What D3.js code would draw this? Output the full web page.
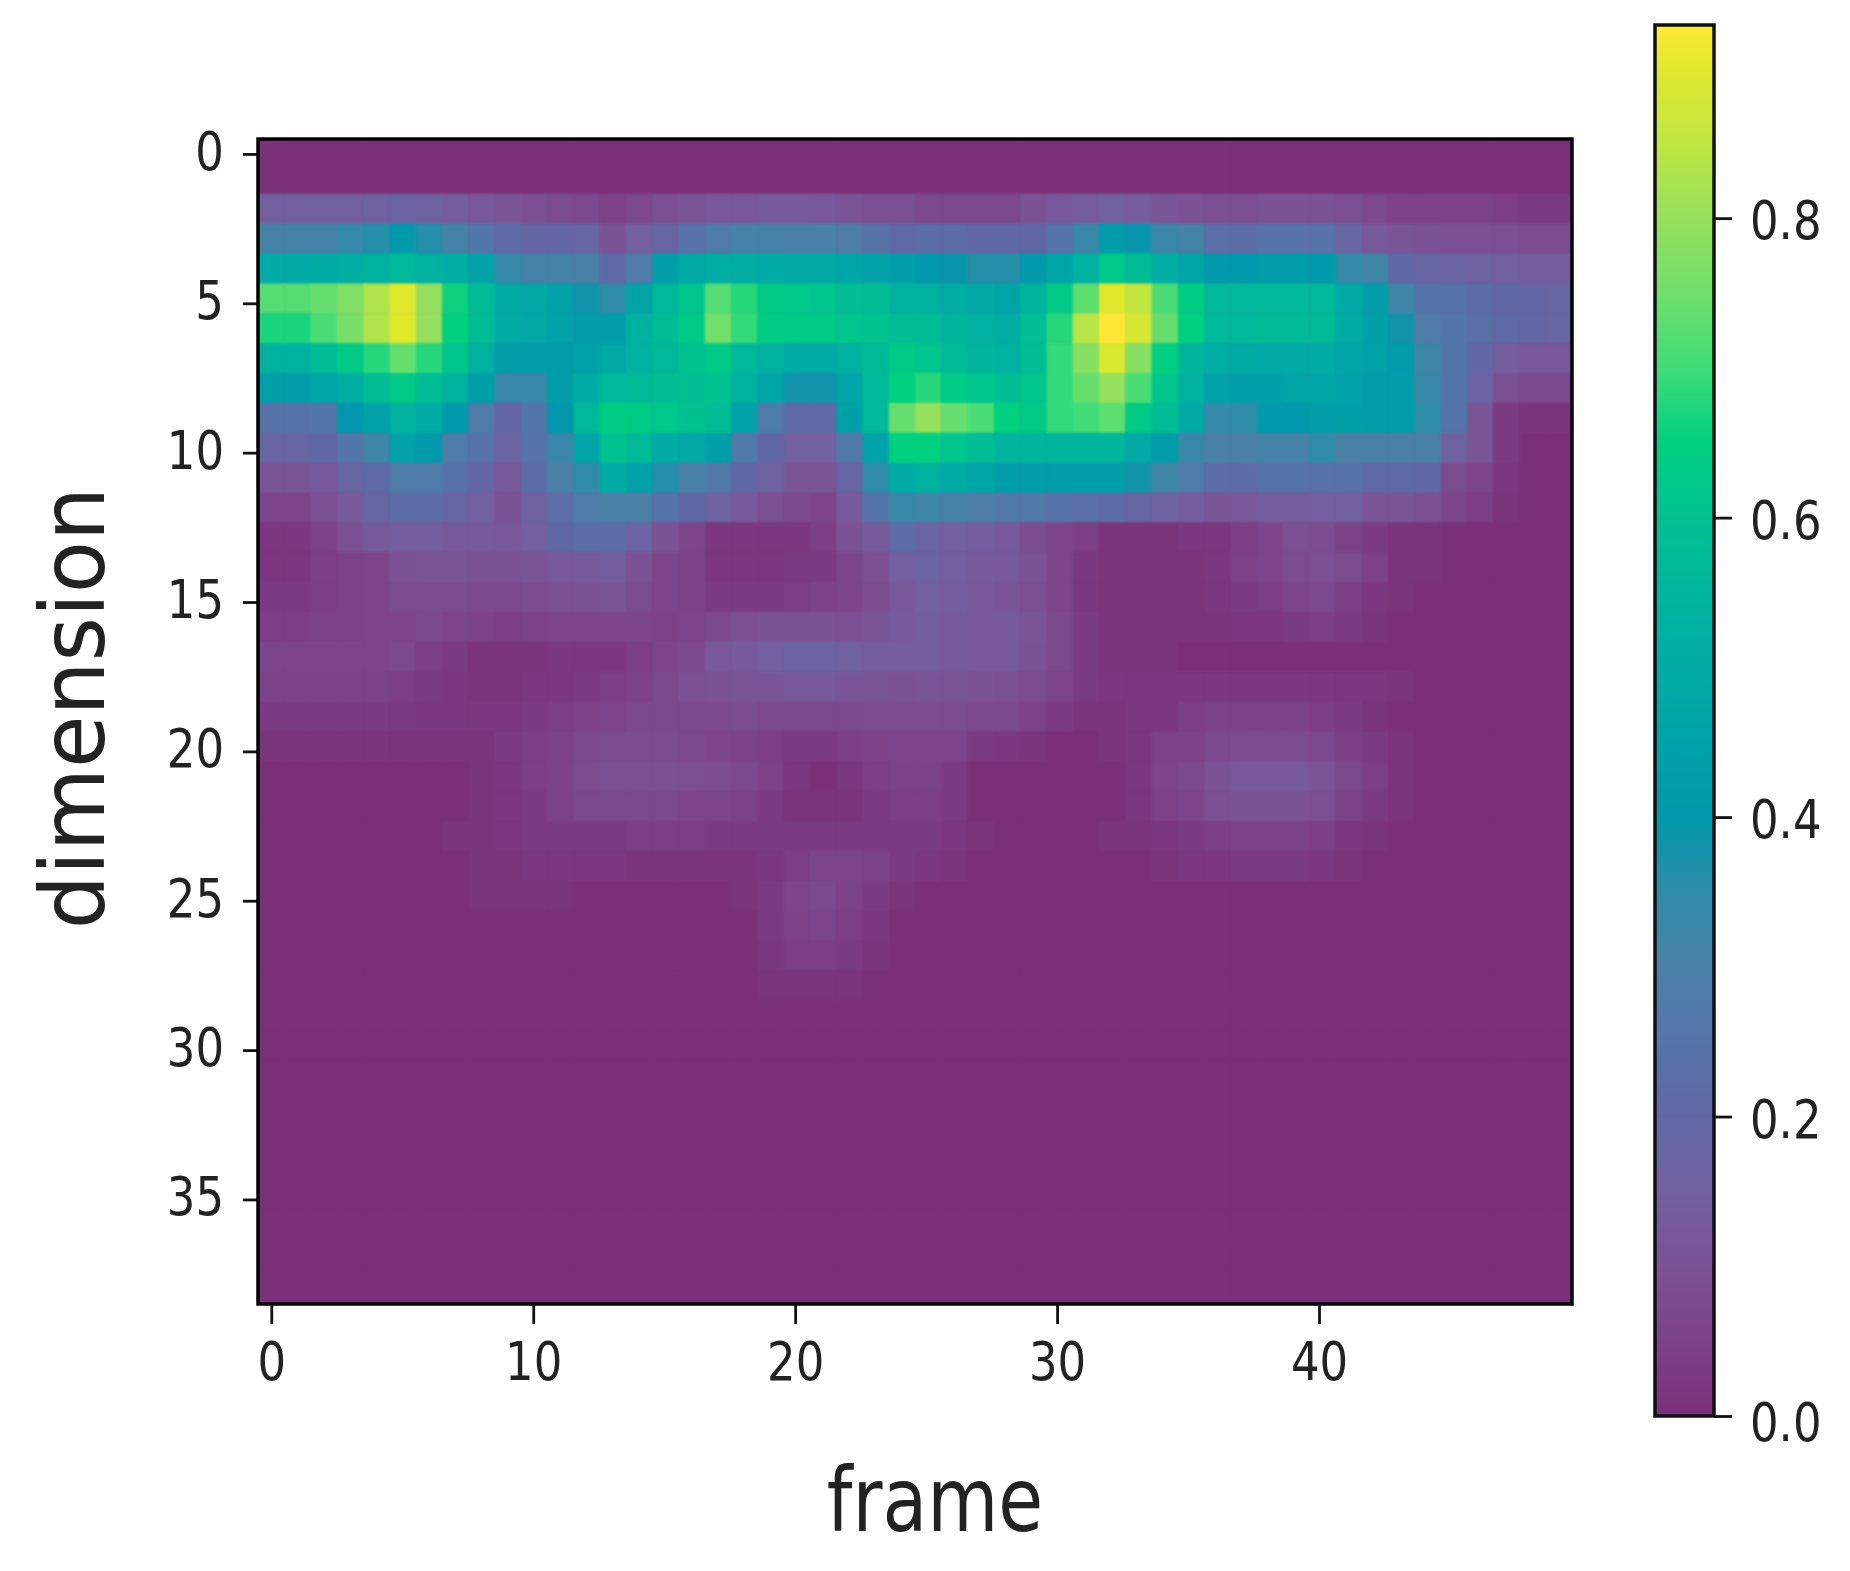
<!DOCTYPE html>
<html><head><meta charset="utf-8">
<script src="https://cdn.jsdelivr.net/npm/d3@7"></script>
<style>html,body{margin:0;background:#fff}svg{display:block;filter:blur(0.7px)}text{font-family:"DejaVu Sans";fill:#222}</style>
</head><body><svg id="c" width="1850" height="1571"></svg>
<script>
const xLabel = "frame", yLabel = "dimension";
const xTicks = [0,10,20,30,40];
const yTicks = [0,5,10,15,20,25,30,35];
const barTicks = [0,0.2,0.4,0.6,0.8];
const barMax = 0.929;
const colorValues = [0,0.05,0.1,0.15,0.2,0.25,0.3,0.35,0.4,0.45,0.5,0.55,0.6,0.65,0.7,0.75,0.8,0.85,0.9,0.93];
const colorHexes = ["#7a3079","#7c4288","#7b5296","#7260a0","#6068a4","#5574a8","#4a80a8","#2e8ca8","#0098aa","#00a2a8","#00aca5","#00b59c","#00c290","#00d080","#40dc78","#70df6c","#95e05c","#c0e640","#e0e82c","#ffe835"];

const row00 = [0,0,0,0,0,0,0,0,0,0,0,0,0,0,0,0,0,0,0,0,0,0,0,0,0,0,0,0,0,0,0,0,0,0,0,0,0,0,0,0,0,0,0,0,0,0,0,0,0,0];
const row01 = row00;
const row02 = [.15,.15,.15,.15,.16,.17,.16,.14,.12,.11,.09,.08,.07, .05,.07,.09,.11,.12,.12,.13,.13,.12,.11,.09,.09, .07,.07,.07,.07,.10,.12,.14,.15,.14,.11,.10,.09,.09, .10,.10,.10,.09,.07,.05,.05,.05,.05,.04,.03,.03];
const row03 = [.31,.31,.31,.34,.36,.41,.36,.31,.26,.21,.19,.19,.18, .10,.15,.18,.24,.28,.31,.31,.30,.30,.29,.24,.21, .22,.22,.20,.20,.20,.25,.33,.42,.39,.33,.31,.23,.22, .24,.24,.24,.18,.12,.11,.10,.09,.09,.09,.08,.08];
const row04 = [.49,.49,.50,.51,.53,.56,.53,.51,.45,.34,.31,.31,.30, .21,.28,.44,.48,.51,.51,.50,.49,.49,.47,.45,.43, .41,.39,.36,.36,.41,.47,.53,.62,.58,.51,.47,.41,.41, .42,.42,.41,.34,.32,.20,.18,.17,.16,.15,.14,.14];
const row05 = [.72,.72,.74,.77,.83,.90,.80,.66,.58,.50,.48,.45,.38, .35,.46,.56,.61,.72,.68,.63,.62,.61,.59,.58,.53, .53,.51,.49,.47,.54,.63,.73,.90,.85,.71,.64,.56,.56, .56,.56,.56,.49,.43,.32,.25,.24,.22,.20,.19,.18];
const row06 = [.67,.67,.71,.76,.83,.90,.80,.65,.58,.50,.48,.45,.43, .43,.53,.58,.63,.75,.69,.64,.63,.63,.61,.60,.58, .58,.55,.52,.51,.59,.68,.84,.93,.88,.74,.65,.56,.56, .57,.57,.57,.50,.44,.38,.28,.26,.23,.21,.19,.18];
const row07 = [.53,.53,.58,.63,.68,.74,.68,.61,.53,.43,.43,.43,.45, .48,.53,.56,.60,.63,.56,.53,.50,.50,.53,.57,.63, .61,.57,.55,.53,.58,.69,.78,.89,.78,.65,.55,.51,.50, .49,.49,.50,.47,.45,.42,.32,.26,.19,.14,.12,.12];
const row08 = [.43,.43,.47,.51,.58,.63,.58,.53,.43,.33,.33,.43,.50, .56,.57,.58,.59,.60,.53,.47,.38,.38,.47,.56,.65, .68,.63,.61,.59,.61,.69,.74,.80,.71,.61,.53,.45,.44, .44,.46,.47,.45,.43,.43,.33,.26,.17,.09,.07,.07];
const row09 = [.24,.24,.26,.40,.45,.53,.50,.41,.28,.19,.26,.40,.56, .64,.63,.62,.60,.58,.45,.28,.21,.21,.44,.56,.74, .80,.74,.71,.65,.63,.69,.70,.73,.63,.58,.49,.34,.35, .41,.41,.43,.44,.43,.43,.35,.25,.11,.03,.01,.01];
const row10 = [.18,.18,.20,.26,.32,.45,.41,.28,.24,.17,.24,.33,.47, .60,.57,.50,.48,.44,.27,.20,.15,.15,.27,.45,.65, .65,.61,.58,.55,.55,.55,.55,.55,.49,.43,.33,.30,.30, .31,.31,.35,.30,.30,.30,.30,.16,.11,.03,0,0];
const row11 = [.11,.11,.13,.18,.21,.28,.28,.24,.19,.12,.22,.30,.35, .50,.45,.36,.30,.27,.20,.16,.11,.11,.18,.35,.50, .53,.50,.47,.43,.43,.43,.43,.43,.38,.32,.28,.22,.22, .24,.24,.24,.24,.21,.21,.20,.08,.06,.02,0,0];
const row12 = [.06,.06,.09,.13,.18,.22,.22,.18,.15,.10,.16,.23,.28, .30,.30,.25,.20,.16,.13,.09,.07,.06,.13,.25,.33, .32,.31,.29,.27,.27,.24,.23,.22,.18,.16,.14,.11,.12, .14,.14,.15,.15,.11,.11,.09,.06,.04,.01,0,0];
const row13 = [.02,.02,.05,.09,.13,.14,.14,.13,.13,.12,.15,.20,.22, .22,.17,.10,.06,.02,.02,.02,.02,.04,.10,.13,.22, .17,.15,.14,.12,.08,.06,.04,.01,.01,.01,.02,.02,.04, .06,.09,.08,.05,.03,.01,.01,0,0,0,0,0];
const row14 = [.02,.02,.04,.05,.06,.10,.11,.11,.10,.10,.11,.12,.13,.14,.10,.06,.05,.02,.02,.02,.03,.03,.06,.09,.15, .17,.15,.13,.12,.10,.06,.02,.01,.01,.01,.01,.02,.05,.06,.08,.09,.08,.05,.01,.01,0,0,0,0,0];
const row15 = [.03,.03,.04,.05,.06,.08,.08,.08,.07,.07,.08,.09,.10,.11,.08,.06,.05,.03,.03,.03,.04,.05,.06,.08,.12, .15,.14,.12,.11,.09,.06,.02,.01,.01,.01,.01,.02,.03,.04,.06,.07,.04,.02,.01,0,0,0,0,0,0];
const row16 = [.04,.04,.05,.05,.06,.06,.07,.06,.05,.04,.05,.06,.06,.06,.06,.05,.06,.07,.09,.10,.10,.10,.09,.11,.13, .14,.13,.12,.12,.11,.07,.03,.01,.01,.01,.01,.01,.02,.02,.03,.04,.03,.01,0,0,0,0,0,0,0];
const row17 = [.06,.06,.06,.06,.06,.07,.04,.03,.01,.01,.01,.02,.02,.02,.04,.06,.07,.12,.13,.15,.17,.17,.16,.14,.14, .14,.13,.12,.12,.10,.07,.03,.01,.01,.01,0,0,0,0,0,0,0,0,0,0,0,0,0,0,0];
const row18 = [.05,.05,.05,.05,.05,.04,.03,.02,.01,.01,.02,.02,.03,.04,.05,.07,.09,.10,.11,.11,.12,.12,.11,.11,.10, .11,.11,.10,.09,.08,.06,.03,.02,.02,.02,.02,.02,.02,.02,.02,.02,.02,.02,.01,0,0,0,0,0,0];
const row19 = [.03,.03,.03,.03,.03,.03,.02,.02,.02,.02,.03,.04,.05,.06,.07,.07,.07,.07,.08,.07,.07,.07,.07,.08,.08, .08,.08,.07,.07,.05,.03,.01,.01,.02,.02,.04,.05,.05,.05,.05,.04,.03,.01,0,0,0,0,0,0,0];
const row20 = [.01,.01,.01,.01,.01,.01,.01,.01,.01,.03,.04,.05,.07,.08,.08,.08,.07,.06,.05,.04,.03,.03,.04,.05,.06, .06,.06,.03,.02,.01,0,0,.01,.02,.05,.05,.07,.08,.08,.08,.07,.04,.03,.01,0,0,0,0,0,0];
const row21 = [0,0,0,0,0,0,0,0,.01,.02,.04,.05,.08,.09,.09,.09,.09,.08,.07,.05,.02,0,.02,.04,.05, .05,.03,0,0,0,0,0,0,.02,.06,.07,.10,.12,.12,.12,.11,.07,.04,.01,0,0,0,0,0,0];
const row22 = [0,0,0,0,0,0,0,0,.01,.02,.03,.05,.07,.07,.07,.07,.06,.06,.05,.03,.01,.01,.01,.03,.04, .04,.03,0,0,0,0,0,0,.02,.05,.06,.09,.10,.10,.10,.09,.05,.03,.01,0,0,0,0,0,0];
const row23 = [0,0,0,0,0,0,0,.01,.01,.02,.03,.03,.03,.03,.04,.04,.04,.03,.03,.03,.03,.03,.03,.03,.03, .03,.02,.01,0,0,0,0,.01,.01,.02,.03,.04,.05,.05,.05,.04,.02,.01,0,0,0,0,0,0,0];
const row24 = [0,0,0,0,0,0,0,0,.01,.01,.02,.02,.02,.02,.01,.01,.01,.01,.01,.02,.04,.06,.06,.05,.03, .02,.01,0,0,0,0,0,0,0,.01,.02,.02,.03,.03,.03,.02,.01,0,0,0,0,0,0,0,0];
const row25 = [0,0,0,0,0,0,0,0,.01,.01,.01,.01,0,0,0,0,0,0,.01,.03,.06,.07,.05,.03,.01, 0,0,0,0,0,0,0,0,0,0,0,0,0,0,0,0,0,0,0,0,0,0,0,0,0];
const row26 = [0,0,0,0,0,0,0,0,0,0,0,0,0,0,0,0,0,0,0,.03,.05,.06,.04,.02,0, 0,0,0,0,0,0,0,0,0,0,0,0,0,0,0,0,0,0,0,0,0,0,0,0,0];
const row27 = [0,0,0,0,0,0,0,0,0,0,0,0,0,0,0,0,0,0,0,.02,.04,.04,.03,.01,0, 0,0,0,0,0,0,0,0,0,0,0,0,0,0,0,0,0,0,0,0,0,0,0,0,0];
const row28 = [0,0,0,0,0,0,0,0,0,0,0,0,0,0,0,0,0,0,0,.01,.01,.01,.01,0,0, 0,0,0,0,0,0,0,0,0,0,0,0,0,0,0,0,0,0,0,0,0,0,0,0,0];
const matrix = [row00,row01,row02,row03,row04,row05,row06,row07,row08,row09,row10,row11,row12,row13,row14,row15,row16,row17,row18,row19,row20,row21,row22,row23,row24,row25,row26,row27,row28,row00,row00,row00,row00,row00,row00,row00,row00,row00,row00];

const svg = d3.select("#c");
const L=258,R=1572,T=139,B=1304;
const x = d3.scaleLinear().domain([-0.5,49.5]).range([L,R]);
const xTick = d3.scaleLinear().domain([0,40]).range([271.3,1319]);
const y = d3.scaleLinear().domain([-0.5,38.5]).range([T,B]);
const cellShift = -5;
const color = d3.scaleLinear().domain(colorValues).range(colorHexes).interpolate(d3.interpolateRgb).clamp(true);
const stretch = 1.18, tickFont = 45;

svg.append("defs").append("clipPath").attr("id","plot").append("rect").attr("x",L).attr("y",T).attr("width",R-L).attr("height",B-T);
const clip = svg.append("g").attr("clip-path","url(#plot)");
clip.append("rect").attr("x",L).attr("y",T).attr("width",R-L).attr("height",B-T).attr("fill",color(0));
const heat = clip.append("g").style("filter","blur(1.2px)");
const cells = matrix.flatMap((r,i)=>r.map((v,j)=>({i,j,v})));
heat.selectAll("rect.cell").data(cells).join("rect").attr("class","cell")
  .attr("x",d=>x(d.j-0.5)).attr("y",d=>y(d.i-0.5)+cellShift)
  .attr("width",x(1)-x(0)+0.5).attr("height",y(1)-y(0)+0.5)
  .attr("fill",d=>color(d.v));

function style(g,tx,ty,anchor,dy){
  g.select(".domain").remove();
  g.selectAll(".tick line").attr("stroke","#111").attr("stroke-width",2.8);
  g.selectAll(".tick text").attr("x",0).attr("y",0).attr("dy",dy).attr("text-anchor",anchor)
    .attr("font-size",tickFont).attr("transform",`translate(${tx},${ty}) scale(1,${stretch})`)
    .attr("fill","#222").attr("font-family","DejaVu Sans");
}
const gx = svg.append("g").attr("transform",`translate(0,${B})`)
  .call(d3.axisBottom(xTick).tickValues(xTicks).tickSize(20).tickFormat(d3.format("d")));
style(gx,0,38,"middle","0.71em");
const gy = svg.append("g").attr("transform",`translate(${L},0)`)
  .call(d3.axisLeft(y).tickValues(yTicks).tickSize(15).tickFormat(d3.format("d")));
style(gy,-34,-2,"end","0.33em");
svg.append("rect").attr("x",L).attr("y",T).attr("width",R-L).attr("height",B-T).attr("fill","none").attr("stroke","#000").attr("stroke-width",3.5);

svg.append("text").text(xLabel).attr("font-size",73).attr("text-anchor","middle")
  .attr("transform",`translate(935,1531) scale(1,1.22)`);
svg.append("text").text(yLabel).attr("font-size",73).attr("text-anchor","middle")
  .attr("transform",`translate(104,708) rotate(-90) scale(1.17,1.22)`);

const cbL=1655,cbR=1714,cbT=25,cbB=1416;
const yBar = d3.scaleLinear().domain([0,barMax]).range([cbB,cbT]);
const grad = svg.select("defs").append("linearGradient").attr("id","cb").attr("x1",0).attr("x2",0).attr("y1",1).attr("y2",0);
colorValues.forEach((v,i)=>grad.append("stop").attr("offset",Math.min(1,v/barMax)).attr("stop-color",colorHexes[i]));
svg.append("rect").attr("x",cbL).attr("y",cbT).attr("width",cbR-cbL).attr("height",cbB-cbT).attr("fill","url(#cb)").attr("stroke","#111").attr("stroke-width",3.5);
const gb = svg.append("g").attr("transform",`translate(${cbR},0)`)
  .call(d3.axisRight(yBar).tickValues(barTicks).tickSize(18).tickFormat(d3.format(".1f")));
style(gb,36,3,"start","0.33em");
gb.selectAll(".tick text").filter(d=>d===0).attr("transform",`translate(36,7) scale(1,${stretch})`);
</script></body></html>
